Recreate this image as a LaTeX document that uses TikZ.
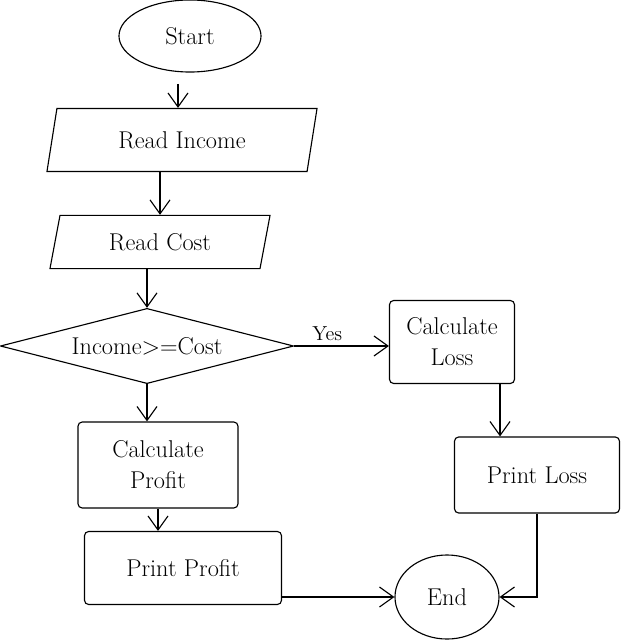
\documentclass[tikz,border=0pt]{standalone}
\usepackage{tikz}
\usetikzlibrary{calc, shapes.geometric, positioning, arrows.meta}

\tikzset{
    base/.style={draw, thick, font=\LARGE, inner sep=0pt, align=center},
    terminal/.style={base, ellipse},
    io/.style={base, trapezium, trapezium left angle=60, trapezium right angle=120,
        trapezium stretches body},
    process/.style={base, rectangle, rounded corners=3pt},
    decision/.style={base, diamond, aspect=3.9},
    flow/.style={->, thick}
}

\begin{document}
\begin{tikzpicture}[>={Straight Barb[length=3.5mm, width=5mm]}, x=0.025cm, y=-0.025cm]

    % =================================================================
    % 1. PAGE FRAME
    % =================================================================
    \useasboundingbox (0,0) rectangle (640,640);

    % =================================================================
    % 2. THE BOXES OF THE FLOWCHART
    % =================================================================
    \node[terminal, minimum width=3.55cm, minimum height=1.8cm] (start) at (190,36) {Start};
    \node[io, minimum width=6.75cm, minimum height=1.575cm] (income) at (182,140) {Read Income};
    \node[io, minimum width=5.5cm, minimum height=1.33cm] (cost) at (160,242) {Read Cost};
    \node[decision, minimum width=7.33cm, minimum height=1.88cm] (check) at (147,346) {Income>=Cost};

    % Right branch
    \node[process, minimum width=3.125cm, minimum height=2.075cm] (calcloss) at (452,342) {Calculate\\Loss};
    \node[process, minimum width=4.125cm, minimum height=1.9cm] (printloss) at (537,475) {Print Loss};

    % Left branch
    \node[process, minimum width=4cm, minimum height=2.15cm] (calcprofit) at (158,465) {Calculate\\Profit};
    \node[process, minimum width=4.925cm, minimum height=1.825cm] (printprofit) at (183,568) {Print Profit};

    \node[terminal, minimum width=2.6cm, minimum height=2.1cm] (end) at (447,597) {End};

    % =================================================================
    % 3. CONNECTORS
    % =================================================================
    \draw[flow, shorten <=8pt] ([xshift=-0.3cm]start.south) -- ([xshift=-0.3cm]start.south |- income.north);
    \draw[flow] (cost.north |- income.south) -- (cost.north);
    \draw[flow] (check.north |- cost.south) -- (check.north);
    \draw[flow] (check.east) -- (calcloss.west |- check.east)
        node[above, pos=0.35, font=\Large] {Yes};
    \draw[flow] ([xshift=1.2cm]calcloss.south) -- ([xshift=1.2cm]calcloss.south |- printloss.north);
    \draw[flow] (check.south) -- (check.south |- calcprofit.north);
    \draw[flow] (calcprofit.south) -- (calcprofit.south |- printprofit.north);
    \draw[flow] (printprofit.east |- end.west) -- (end.west);
    \draw[flow] (printloss.south) |- (end.east);

\end{tikzpicture}
\end{document}
